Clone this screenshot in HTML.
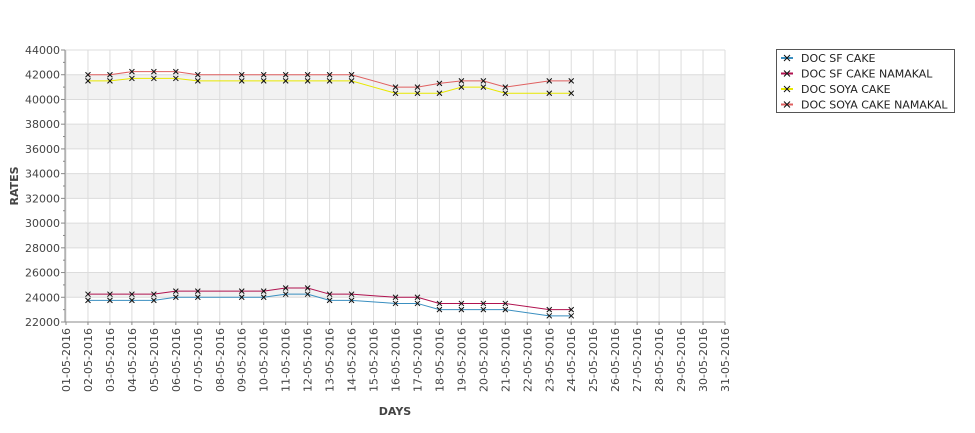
<!DOCTYPE html>
<html><head><meta charset="utf-8"><style>
body{margin:0;background:#fff;width:975px;height:429px;overflow:hidden;font-family:"DejaVu Sans","Liberation Sans",sans-serif}
svg text{font-family:"DejaVu Sans","Liberation Sans",sans-serif}
</style></head><body>
<svg id="chart" width="975" height="429" xmlns="http://www.w3.org/2000/svg">
<g id="bands"></g><g id="grid"></g><g id="axes"></g><g id="series"></g>
<text x="395" y="415" font-size="11" font-weight="bold" fill="#444" text-anchor="middle">DAYS</text>
<text x="0" y="0" font-size="11" font-weight="bold" fill="#444" text-anchor="middle" transform="translate(18,186) rotate(-90)">RATES</text>
<g id="legend"><rect x="776.5" y="49.5" width="178" height="63" fill="#fff" stroke="#555"/></g>
</svg>
<script>
const dayLabels=[];for(let d=1;d<=31;d++)dayLabels.push(String(d).padStart(2,'0')+'-05-2016');
const days=[2,3,4,5,6,7,9,10,11,12,13,14,16,17,18,19,20,21,23,24];
const seriesNames=["DOC SF CAKE","DOC SF CAKE NAMAKAL","DOC SOYA CAKE","DOC SOYA CAKE NAMAKAL"];
const sfCake=[23750,23750,23750,23750,24000,24000,24000,24000,24250,24250,23750,23750,23500,23500,23000,23000,23000,23000,22500,22500];
const sfCakeNamakal=[24250,24250,24250,24250,24500,24500,24500,24500,24750,24750,24250,24250,24000,24000,23500,23500,23500,23500,23000,23000];
const soyaCake=[41500,41500,41700,41700,41700,41500,41500,41500,41500,41500,41500,41500,40500,40500,40500,41000,41000,40500,40500,40500];
const soyaCakeNamakal=[42000,42000,42250,42250,42250,42000,42000,42000,42000,42000,42000,42000,41000,41000,41300,41500,41500,41000,41500,41500];
const yTicks=[22000,24000,26000,28000,30000,32000,34000,36000,38000,40000,42000,44000];
const colors=["#3a8fc0","#b0124f","#e8e800","#e06060"];
const allSeries=[sfCake,sfCakeNamakal,soyaCake,soyaCakeNamakal];
const L=65,R=725,T=50,B=322,yMin=22000,yMax=44000;
const X=d=>L+1+(d-1)*(R-L-1)/30;
const Y=v=>B-(v-yMin)*(B-T)/(yMax-yMin);
const NS="http://www.w3.org/2000/svg";
function mk(tag,attrs,parent,txt){const e=document.createElementNS(NS,tag);for(const k in attrs)e.setAttribute(k,attrs[k]);if(txt!=null)e.textContent=txt;document.getElementById(parent)?document.getElementById(parent).appendChild(e):parent.appendChild(e);return e;}
// bands
for(let i=0;i<yTicks.length-1;i++){if(i%2===1){const r=mk('rect',{x:L,y:Y(yTicks[i+1]),width:R-L,height:Y(yTicks[i])-Y(yTicks[i+1]),fill:'#f2f2f2'},'bands');

}}
// grid
yTicks.forEach(v=>{const l=mk('line',{x1:L,x2:R,y1:Y(v),y2:Y(v),stroke:'#dcdcdc'},'grid');


const t=mk('text',{x:L-5,y:Y(v)+4,'font-size':11,fill:'#444','text-anchor':'end'},'axes',v);


mk('line',{x1:L-4,x2:L,y1:Y(v),y2:Y(v),stroke:'#888'},'axes');
if(v<yMax){mk('line',{x1:L-2,x2:L,y1:Y(v+1000),y2:Y(v+1000),stroke:'#888'},'axes');}});
dayLabels.forEach((lab,i)=>{const x=X(i+1);const l=mk('line',{x1:x,x2:x,y1:T,y2:B,stroke:'#dcdcdc'},'grid');


mk('line',{x1:x,x2:x,y1:B,y2:B+3,stroke:'#888'},'axes');
const t=mk('text',{x:0,y:0,'font-size':11,fill:'#444','text-anchor':'end',transform:`translate(${x+4},${B+6}) rotate(-90)`},'axes',lab);

});
const ax=mk('line',{x1:L,x2:L,y1:T,y2:B,stroke:'#888'},'axes');


const bx=mk('line',{x1:L,x2:R,y1:B,y2:B,stroke:'#888'},'axes');


// series
allSeries.forEach((s,si)=>{const pts=s.map((v,i)=>X(days[i])+','+Y(v)).join(' ');
const pl=mk('polyline',{points:pts,fill:'none',stroke:colors[si],'stroke-width':1},'series');

});
allSeries.forEach((s,si)=>{s.forEach((v,i)=>{const x=X(days[i]),y=Y(v);
const p=mk('path',{d:`M${x-2.5},${y-2.5}L${x+2.5},${y+2.5}M${x-2.5},${y+2.5}L${x+2.5},${y-2.5}`,stroke:'#111','stroke-width':1},'series');

});});
// legend
seriesNames.forEach((n,i)=>{const y=58+i*15.5;
mk('line',{x1:781,x2:793,y1:y,y2:y,stroke:colors[i],'stroke-width':2},'legend');
mk('path',{d:`M784,${y-3}L790,${y+3}M784,${y+3}L790,${y-3}`,stroke:'#111'},'legend');
const t=mk('text',{x:801,y:y+4,'font-size':11,fill:'#222'},'legend',n);

});
</script>
</body></html>
